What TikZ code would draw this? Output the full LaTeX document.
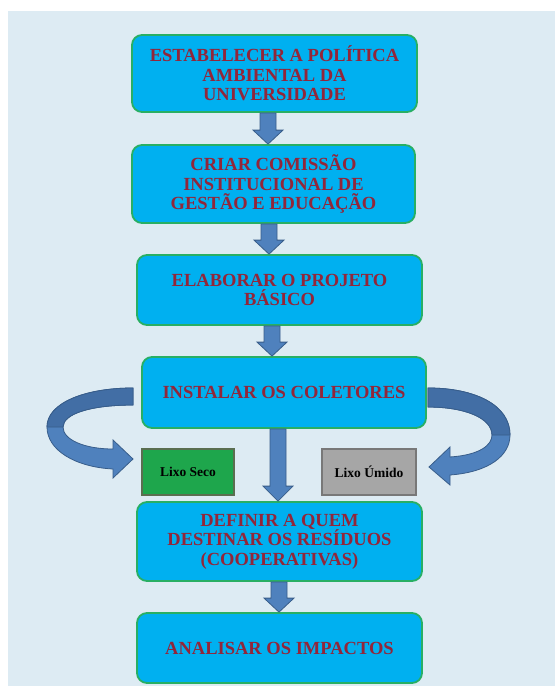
\documentclass[tikz,border=0pt]{standalone}
\usepackage{fontspec}
\setmainfont{Liberation Serif}
\usetikzlibrary{calc}
\definecolor{bgc}{RGB}{221,235,243}
\definecolor{boxfill}{RGB}{0,176,240}
\definecolor{boxline}{RGB}{40,175,100}
\definecolor{txtred}{RGB}{146,38,58}
\definecolor{arrfill}{RGB}{79,129,189}
\definecolor{arrdark}{RGB}{66,110,165}
\definecolor{arrline}{RGB}{56,93,138}
\definecolor{secofill}{RGB}{30,166,76}
\definecolor{secoline}{RGB}{90,110,80}
\definecolor{umifill}{RGB}{166,166,166}
\definecolor{umiline}{RGB}{120,120,120}
\tikzset{
  stepbox/.style={draw=boxline, line width=1.8pt, fill=boxfill, rounded corners=10pt,
    minimum width=285pt, align=center, inner sep=0pt,
    font=\fontsize{18.5}{19.5}\selectfont\bfseries, text=txtred},
  lixobox/.style={line width=1.2pt, minimum height=46pt, inner sep=0pt,
    font=\fontsize{13.5}{15}\selectfont\bfseries, text=black},
  barrow/.style={fill=arrfill, draw=arrline, line width=0.8pt, line join=miter},
  ribbon/.style={fill=arrfill, draw=arrline, line width=0.8pt},
  ribbondark/.style={fill=arrdark, draw=arrline, line width=0.8pt}
}
\newcommand\blockarr[4]{%
  \draw[barrow] ($(#2.south -| #1)+(-8,0)$) -- ($(#3.north -| #1)+(-8,-#4)$)
    -- ($(#3.north -| #1)+(-15,-#4)$) -- (#3.north -| #1)
    -- ($(#3.north -| #1)+(15,-#4)$) -- ($(#3.north -| #1)+(8,-#4)$)
    -- ($(#2.south -| #1)+(8,0)$) -- cycle;}
\begin{document}
\begin{tikzpicture}[x=1pt,y=-1pt]
\useasboundingbox (0,0) rectangle (555,686);
\fill[white] (0,0) rectangle (555,686);
\fill[bgc] (8,11) rectangle (555,686);

\node[stepbox, minimum height=77pt] (b1) at (274.5,73.5)
  {ESTABELECER A POLÍTICA\\AMBIENTAL DA\\UNIVERSIDADE};
\node[stepbox, minimum height=78pt, minimum width=283pt] (b2) at (273.5,184)
  {CRIAR COMISSÃO\\INSTITUCIONAL DE\\GESTÃO E EDUCAÇÃO};
\node[stepbox, minimum height=70pt] (b3) at (279.5,290)
  {ELABORAR O PROJETO\\BÁSICO};
\node[stepbox, minimum height=71pt, minimum width=284pt] (b4) at (284,392.5)
  {INSTALAR OS COLETORES};
\node[stepbox, minimum height=79pt] (b5) at (279.5,541.5)
  {DEFINIR A QUEM\\DESTINAR OS RESÍDUOS\\(COOPERATIVAS)};
\node[stepbox, minimum height=70pt] (b6) at (279.5,648)
  {ANALISAR OS IMPACTOS};

\node[lixobox, draw=secoline, fill=secofill, minimum width=92pt] (seco) at (188,472) {Lixo Seco};
\node[lixobox, draw=umiline, fill=umifill, minimum width=94pt] (umido) at (369,472) {Lixo Úmido};

\coordinate (x1) at (268,0);
\coordinate (x2) at (269,0);
\coordinate (x3) at (272,0);
\coordinate (x4) at (278,0);
\coordinate (x5) at (279,0);
\blockarr{x1}{b1}{b2}{14}
\blockarr{x2}{b2}{b3}{14}
\blockarr{x3}{b3}{b4}{14}
\blockarr{x4}{b4}{b5}{15}
\blockarr{x5}{b5}{b6}{14}

% left curved arrow
\draw[ribbon] (133,388) .. controls (85,388) and (47,403) .. (47,427)
  .. controls (47,450) and (75,467) .. (113,469)
  -- (113,478) -- (133,459) -- (113,440) -- (113,449)
  .. controls (85,449) and (63,440) .. (63,427)
  .. controls (63,414) and (90,405) .. (133,405) -- cycle;
\draw[ribbondark] (133,388) .. controls (85,388) and (47,403) .. (47,427)
  -- (63,427) .. controls (63,414) and (90,405) .. (133,405) -- cycle;
% right curved arrow
\draw[ribbon] (428,388) .. controls (475,388) and (510,405) .. (510,435)
  .. controls (510,455) and (490,472) .. (450,475)
  -- (450,485) -- (429,467) -- (450,447) -- (450,457)
  .. controls (480,455) and (492,445) .. (492,435)
  .. controls (492,418) and (465,407) .. (428,407) -- cycle;
\draw[ribbondark] (428,388) .. controls (475,388) and (510,405) .. (510,435)
  -- (492,435) .. controls (492,418) and (465,407) .. (428,407) -- cycle;
\end{tikzpicture}
\end{document}
